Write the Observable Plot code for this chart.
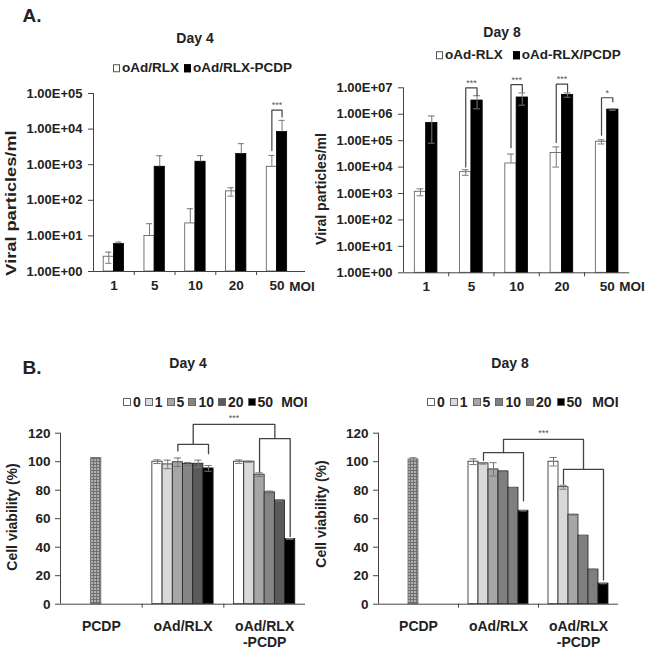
<!DOCTYPE html>
<html><head><meta charset="utf-8">
<script src="https://cdn.jsdelivr.net/npm/d3@7"></script>
<script src="https://cdn.jsdelivr.net/npm/@observablehq/plot@0.6"></script>
<style>
body{margin:0;background:#fff;}
#root{position:relative;width:646px;height:655px;overflow:hidden;font-family:"Liberation Sans",Arial,sans-serif;font-weight:bold;color:#222;}
.abs{position:absolute;white-space:nowrap;line-height:1;}
.panel{position:absolute;}
.lg{position:absolute;display:flex;align-items:center;white-space:nowrap;line-height:1;transform:translateY(-50%);}
.sq{display:inline-block;box-sizing:border-box;border:1px solid #555;}
</style></head><body>
<svg width="0" height="0" style="position:absolute">
  <defs>
    <pattern id="pcdp" width="3" height="3" patternUnits="userSpaceOnUse">
      <rect width="3" height="3" fill="#b0b0b0"/>
      <path d="M0 0.5H3M0.5 0V3" stroke="#707070" stroke-width="1"/>
    </pattern>
  </defs>
</svg>
<div id="root"></div>
<script>
// ---------- Data: panel A (viral particles/ml, log scale) ----------
const moiA = ["1", "5", "10", "20", "50"];
const day4White = [2.6, 10, 22.4, 178, 875];
const day4WhiteErr = [0.9, 12, 35.6, 47, 945];
const day4Black = [5.9, 875, 1210, 1990, 8300];
const day4BlackErr = [0.8, 905, 580, 1910, 9300];
const day8White = [1160, 6400, 13700, 34000, 91000];
const day8WhiteErr = [340, 1500, 17300, 24000, 16000];
const day8Black = [470000, 3300000, 4300000, 5400000, 1500000];
const day8BlackErr = [390000, 1700000, 2100000, 1000000, 90000];
const day4Ticks = [1, 10, 100, 1e3, 1e4, 1e5];
const day8Ticks = [1, 10, 100, 1e3, 1e4, 1e5, 1e6, 1e7];
const day4Sig = [{moi: "50", left: 2500, top: 34000, right: 21900, label: "***"}];
const day8Sig = [
  {moi: "5", left: 10000, top: 1.0e7, right: 5.2e6, label: "***"},
  {moi: "10", left: 54000, top: 1.32e7, right: 7.1e6, label: "***"},
  {moi: "20", left: 85000, top: 1.38e7, right: 7.1e6, label: "***"},
  {moi: "50", left: 160000, top: 4.2e6, right: 2.95e6, label: "*"}
];
const legendA4 = ["oAd/RLX", "oAd/RLX-PCDP"];
const legendA8 = ["oAd-RLX", "oAd-RLX/PCDP"];

// ---------- Data: panel B (cell viability %) ----------
const groupsB = ["PCDP", "oAd/RLX", "oAd/RLX\n-PCDP"];
const moiB = ["0", "1", "5", "10", "20", "50"];
const b4RLX = [100, 98.1, 99.6, 98.4, 98.6, 95.3];
const b4RLXErr = [1.3, 3, 3, 1, 2.5, 2];
const b4RLXP = [100, 100, 90.9, 78.5, 72.8, 45.8];
const b4RLXPErr = [1.2, 0.4, 1.3, 0.9, 0.4, 0.3];
const b4PCDP = 102.5, b4PCDPErr = 0.4;
const b8RLX = [100, 98.8, 94.6, 93.2, 81.7, 65.6];
const b8RLXErr = [2, 0.5, 4.7, 0.5, 0.3, 0.2];
const b8RLXP = [100, 82.1, 62.8, 48.1, 24.3, 14.5];
const b8RLXPErr = [3, 1.4, 0.3, 0.2, 0.3, 0.2];
const b8PCDP = 101.6, b8PCDPErr = 1.2;
const cvTicks = [0, 20, 40, 60, 80, 100, 120];
const b4Brackets = {inner: [
  {group: 1, from: "5", to: "50", top: 112.2, legFrom: 107.5, legTo: 105.6},
  {group: 2, from: "5", to: "50", top: 116.2, legFrom: 93, legTo: 47.5}], link: 126.2, label: "***"};
const b8Brackets = {inner: [
  {group: 1, from: "1", to: "50", top: 106.3, legFrom: 101, legTo: 72.5},
  {group: 2, from: "1", to: "50", top: 94.6, legFrom: 84.5, legTo: 17}], link: 115.6, label: "***"};

const FONT = '"Liberation Sans", Arial, sans-serif';
const root = document.getElementById("root");

function logFmt(d) {
  const e = Math.round(Math.log10(d));
  return "1.00E+" + String(e).padStart(2, "0");
}

function place(svg, left, top) {
  const wrap = document.createElement("div");
  wrap.className = "panel";
  wrap.style.left = left + "px";
  wrap.style.top = top + "px";
  wrap.appendChild(svg);
  root.appendChild(wrap);
}

function addText(txt, x, y, size, transform) {
  const d = document.createElement("div");
  d.className = "abs";
  d.textContent = txt;
  d.style.left = x + "px";
  d.style.top = y + "px";
  d.style.fontSize = size + "px";
  d.style.transform = transform || "translate(-50%,-50%)";
  root.appendChild(d);
}

function legend(x, y, items, size, opts) {
  const d = document.createElement("div");
  d.className = "lg";
  d.style.left = x + "px";
  d.style.top = y + "px";
  d.style.fontSize = size + "px";
  items.forEach((it, i) => {
    const s = document.createElement("span");
    s.className = "sq";
    s.style.width = opts.sw + "px";
    s.style.height = opts.sh + "px";
    s.style.background = it.fill;
    s.style.borderColor = it.border;
    s.style.marginRight = opts.gapIn + "px";
    if (i > 0) s.style.marginLeft = opts.gapOut + "px";
    d.appendChild(s);
    const t = document.createElement("span");
    t.textContent = it.label;
    d.appendChild(t);
  });
  if (opts.tail) {
    const t = document.createElement("span");
    t.textContent = opts.tail;
    t.style.marginLeft = opts.tailGap + "px";
    d.appendChild(t);
  }
  root.appendChild(d);
}

// ---------- Panel A builder ----------
function panelA(o) {
  const nG = moiA.length, bw = 0.25, cap = 0.075;
  const rows = moiA.flatMap((m, i) => [
    {g: i, s: 0, v: o.white[i], e: o.whiteErr[i]},
    {g: i, s: 1, v: o.black[i], e: o.blackErr[i]}
  ]);
  rows.forEach(d => {
    d.cx = d.g + (d.s - 0.5) * bw;
    d.hi = d.v + d.e;
    const lowOk = d.v - d.e > 0 && (d.s === 0 || o.blackLower);
    d.lo = lowOk ? d.v - d.e : null;
  });
  const yMin = o.ticks[0], yMax = o.ticks[o.ticks.length - 1];
  const xDom = [-0.5, nG - 0.5 + o.extra];
  const sigPts = o.sig.flatMap((s, k) => {
    const g = moiA.indexOf(s.moi), xl = g - bw / 2, xr = g + bw / 2;
    return [{k, x: xl, y: s.left}, {k, x: xl, y: s.top}, {k, x: xr, y: s.top}, {k, x: xr, y: s.right}];
  });
  const sigLbl = o.sig.map(s => ({x: moiA.indexOf(s.moi), y: s.top, t: s.label}));
  return Plot.plot({
    width: o.w, height: o.h,
    marginLeft: o.ml, marginRight: o.mr, marginTop: o.mt, marginBottom: o.mb,
    x: {type: "linear", domain: xDom, label: null},
    y: {type: "log", domain: [yMin, yMax], label: null},
    color: {type: "identity"},
    style: {fontFamily: FONT, fontWeight: "bold", color: "#222", background: "none", overflow: "visible"},
    marks: [
      Plot.rectY(rows, {x1: d => d.g + (d.s - 1) * bw, x2: d => d.g + d.s * bw, y1: yMin, y2: "v",
        fill: d => d.s ? "#000" : "#fff", stroke: d => d.s ? "#000" : "#555", strokeWidth: 0.8}),
      Plot.ruleX(rows, {x: "cx", y1: d => d.lo ?? d.v, y2: "hi", stroke: "#777", strokeWidth: 1}),
      Plot.ruleY(rows, {y: "hi", x1: d => d.cx - cap, x2: d => d.cx + cap, stroke: "#777", strokeWidth: 1}),
      Plot.ruleY(rows.filter(d => d.lo != null), {y: "lo", x1: d => d.cx - cap, x2: d => d.cx + cap, stroke: "#777", strokeWidth: 1}),
      Plot.line(sigPts, {x: "x", y: "y", z: "k", stroke: "#444", strokeWidth: 1.2}),
      Plot.text(sigLbl, {x: "x", y: "y", text: "t", dy: -5, fontSize: 9, fill: "#555", fontWeight: "normal"}),
      Plot.ruleX([xDom[0]], {stroke: "#444", strokeWidth: 1}),
      Plot.ruleY([yMin], {stroke: "#444", strokeWidth: 1}),
      Plot.axisY(o.ticks, {tickFormat: logFmt, tickSize: 5, tickPadding: 6, fontSize: 13, stroke: "#444", label: null}),
      Plot.axisX(d3.range(nG), {tickFormat: i => moiA[i], tickSize: 0, tickPadding: 9, fontSize: 13.5, label: null}),
      Plot.axisX(d3.range(1, nG).map(i => i - 0.5), {tickFormat: () => "", tickSize: 4, tickPadding: 0, stroke: "#444", label: null})
    ]
  });
}

// ---------- Panel B builder ----------
function panelB(o) {
  const bw = 0.125, cap = 0.045;
  const rows = [];
  [o.rlx, o.rlxp].forEach((vals, k) => vals.forEach((v, s) =>
    rows.push({g: k + 1, s, v, e: [o.rlxErr, o.rlxpErr][k][s]})));
  const pc = [{g: 0, s: moiB.indexOf("5"), v: o.pcdp, e: o.pcdpErr}];
  const all = rows.concat(pc);
  all.forEach(d => { d.cx = d.g + (d.s - 2.5) * bw; d.x1 = d.g + (d.s - 3) * bw; d.x2 = d.g + (d.s - 2) * bw; });
  const xDom = [-0.5, groupsB.length - 0.5];
  const posOf = (g, m) => g + (moiB.indexOf(m) - 2.5) * bw;
  const pts = [];
  const mids = [];
  o.br.inner.forEach((b, k) => {
    const xf = posOf(b.group, b.from), xt = posOf(b.group, b.to);
    pts.push({k, x: xf, y: b.legFrom}, {k, x: xf, y: b.top}, {k, x: xt, y: b.top}, {k, x: xt, y: b.legTo});
    mids.push({x: (xf + xt) / 2, y: b.top});
  });
  pts.push({k: 9, x: mids[0].x, y: mids[0].y}, {k: 9, x: mids[0].x, y: o.br.link},
           {k: 9, x: mids[1].x, y: o.br.link}, {k: 9, x: mids[1].x, y: mids[1].y});
  const lbl = [{x: (mids[0].x + mids[1].x) / 2, y: o.br.link, t: o.br.label}];
  return Plot.plot({
    width: o.w, height: o.h,
    marginLeft: o.ml, marginRight: o.mr, marginTop: o.mt, marginBottom: o.mb,
    x: {type: "linear", domain: xDom, label: null},
    y: {type: "linear", domain: [cvTicks[0], cvTicks[cvTicks.length - 1]], label: null},
    color: {type: "identity"},
    style: {fontFamily: FONT, fontWeight: "bold", color: "#222", background: "none", overflow: "visible"},
    marks: [
      Plot.rectY(rows, {x1: "x1", x2: "x2", y1: 0, y2: "v", fill: d => o.colors[d.s], stroke: "#222", strokeWidth: 0.8}),
      Plot.rectY(pc, {x1: "x1", x2: "x2", y1: 0, y2: "v", fill: "url(#pcdp)", stroke: "#666", strokeWidth: 0.8}),
      Plot.ruleX(all, {x: "cx", y1: d => d.v - d.e, y2: d => d.v + d.e, stroke: "#777"}),
      Plot.ruleY(all, {y: d => d.v + d.e, x1: d => d.cx - cap, x2: d => d.cx + cap, stroke: "#777"}),
      Plot.ruleY(all, {y: d => d.v - d.e, x1: d => d.cx - cap, x2: d => d.cx + cap, stroke: "#777"}),
      Plot.line(pts, {x: "x", y: "y", z: "k", stroke: "#444", strokeWidth: 1.3}),
      Plot.text(lbl, {x: "x", y: "y", text: "t", dy: -6, fontSize: 9, fill: "#555", fontWeight: "normal"}),
      Plot.ruleX([xDom[0]], {stroke: "#444"}),
      Plot.ruleY([0], {stroke: "#444"}),
      Plot.axisY(cvTicks, {tickSize: 5, tickPadding: 5, fontSize: 13.5, stroke: "#444", label: null}),
      Plot.axisX(d3.range(groupsB.length), {tickFormat: i => groupsB[i], tickSize: 0, tickPadding: 15, fontSize: 14, lineHeight: 1.15, label: null}),
      Plot.axisX(d3.range(1, groupsB.length).map(i => i - 0.5), {tickFormat: () => "", tickSize: 4, tickPadding: 0, stroke: "#444", label: null})
    ]
  });
}

// ---------- Build page ----------
place(panelA({white: day4White, whiteErr: day4WhiteErr, black: day4Black, blackErr: day4BlackErr,
  ticks: day4Ticks, sig: day4Sig, extra: 0.2, blackLower: false,
  w: 323, h: 220, ml: 93, mr: 18, mt: 13, mb: 29}), 0, 80);
place(panelA({white: day8White, whiteErr: day8WhiteErr, black: day8Black, blackErr: day8BlackErr,
  ticks: day8Ticks, sig: day8Sig, extra: 0, blackLower: true,
  w: 323, h: 230, ml: 80, mr: 16.7, mt: 17.3, mb: 27.7}), 323, 70);

const greys4 = ["#ffffff", "#d9d9d9", "#a6a6a6", "#858585", "#5a5a5a", "#000000"];
const greys8 = ["#ffffff", "#d9d9d9", "#a6a6a6", "#7f7f7f", "#7f7f7f", "#000000"];
place(panelB({rlx: b4RLX, rlxErr: b4RLXErr, rlxp: b4RLXP, rlxpErr: b4RLXPErr, pcdp: b4PCDP, pcdpErr: b4PCDPErr,
  br: b4Brackets, colors: greys4, w: 323, h: 245, ml: 60, mr: 18, mt: 22.7, mb: 51.3}), 0, 410);
place(panelB({rlx: b8RLX, rlxErr: b8RLXErr, rlxp: b8RLXP, rlxpErr: b8RLXPErr, pcdp: b8PCDP, pcdpErr: b8PCDPErr,
  br: b8Brackets, colors: greys8, w: 323, h: 245, ml: 55, mr: 28, mt: 22.7, mb: 51.3}), 323, 410);

// titles
addText("A.", 32, 15, 19);
addText("Day 4", 195, 38, 14);
addText("Day 8", 502, 32, 14);
addText("B.", 32, 367, 19);
addText("Day 4", 188, 363, 14);
addText("Day 8", 510, 363, 14);
// axis titles
addText("Viral particles/ml", 11, 203, 14, "translate(-50%,-50%) rotate(-90deg) scaleX(1.3)");
addText("Viral particles/ml", 321, 189, 14, "translate(-50%,-50%) rotate(-90deg)");
addText("Cell viability (%)", 12, 517, 14, "translate(-50%,-50%) rotate(-90deg)");
addText("Cell viability (%)", 321, 514, 14, "translate(-50%,-50%) rotate(-90deg)");
addText("MOI", 302, 287, 13.5);
addText("MOI", 632, 287, 13.5);
// legends
legend(113, 68, [{label: legendA4[0], fill: "#fff", border: "#555"}, {label: legendA4[1], fill: "#000", border: "#000"}],
  13.5, {sw: 7, sh: 8, gapIn: 2, gapOut: 5});
legend(436, 55, [{label: legendA8[0], fill: "#fff", border: "#555"}, {label: legendA8[1], fill: "#000", border: "#000"}],
  13.5, {sw: 7, sh: 8, gapIn: 2, gapOut: 10});
legend(123, 402, moiB.map((m, i) => ({label: m, fill: greys4[i], border: "#666"})), 14,
  {sw: 8, sh: 8, gapIn: 2, gapOut: 4, tail: "MOI", tailGap: 8});
legend(427, 402, moiB.map((m, i) => ({label: m, fill: greys8[i], border: "#666"})), 14,
  {sw: 8, sh: 8, gapIn: 2, gapOut: 5, tail: "MOI", tailGap: 10});
</script></body></html>
